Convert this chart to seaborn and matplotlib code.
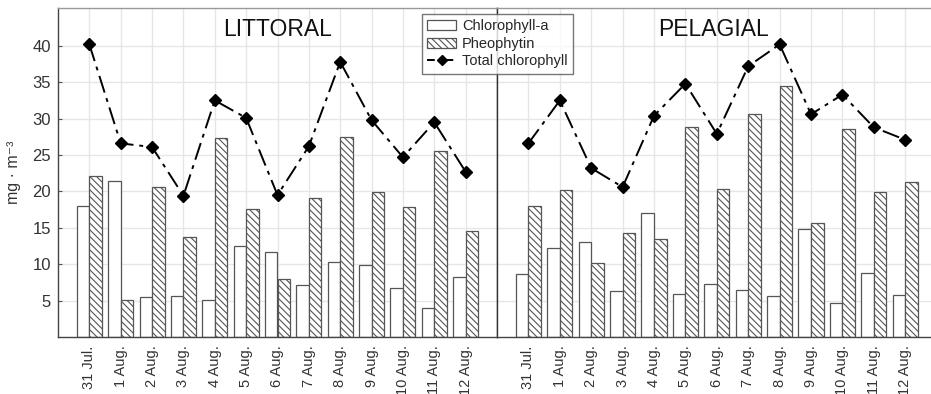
import matplotlib
matplotlib.use('Agg')
import matplotlib.pyplot as plt
import seaborn as sns
import pandas as pd
from matplotlib.patches import Patch
from matplotlib.lines import Line2D

# data
dates = ["31 Jul.", "1 Aug.", "2 Aug.", "3 Aug.", "4 Aug.", "5 Aug.", "6 Aug.",
         "7 Aug.", "8 Aug.", "9 Aug.", "10 Aug.", "11 Aug.", "12 Aug."]
sites = ["LITTORAL", "PELAGIAL"]

littoral_chla = [18.0, 21.5, 5.5, 5.7, 5.1, 12.5, 11.7, 7.1, 10.3, 9.9, 6.8, 4.0, 8.3]
littoral_pheo = [22.1, 5.1, 20.6, 13.8, 27.4, 17.6, 7.9, 19.1, 27.5, 19.9, 17.9, 25.6, 14.5]
littoral_total = [40.2, 26.6, 26.1, 19.4, 32.5, 30.1, 19.5, 26.2, 37.8, 29.8, 24.7, 29.5, 22.7]

pelagial_chla = [8.6, 12.2, 13.1, 6.3, 17.1, 5.9, 7.3, 6.4, 5.7, 14.9, 4.7, 8.8, 5.8]
pelagial_pheo = [18.0, 20.2, 10.1, 14.3, 13.4, 28.8, 20.4, 30.7, 34.5, 15.7, 28.6, 19.9, 21.3]
pelagial_total = [26.6, 32.5, 23.2, 20.6, 30.4, 34.8, 27.9, 37.2, 40.2, 30.6, 33.3, 28.8, 27.1]

components = ["Chlorophyll-a", "Pheophytin"]
yticks = [5, 10, 15, 20, 25, 30, 35, 40]

sns.set_style('white')
plt.rcParams['font.family'] = ['Liberation Sans', 'DejaVu Sans']
plt.rcParams['hatch.color'] = '#555555'
plt.rcParams['hatch.linewidth'] = 0.8

W, H = 931, 394
fig = plt.figure(figsize=(W / 100, H / 100), dpi=100)
bottom = 1 - 337 / H
top = 1 - 8 / H
ax_l = fig.add_axes([58 / W, bottom, (497 - 58) / W, top - bottom])
ax_r = fig.add_axes([497 / W, bottom, (W - 497) / W, top - bottom], sharey=ax_l)

panels = [
    (ax_l, "LITTORAL", littoral_chla, littoral_pheo, littoral_total),
    (ax_r, "PELAGIAL", pelagial_chla, pelagial_pheo, pelagial_total),
]

grid_c = '#e6e6e6'
for ax, site, chla, pheo, total in panels:
    df = pd.DataFrame({
        'date': dates * 2,
        'component': [components[0]] * len(dates) + [components[1]] * len(dates),
        'value': chla + pheo,
    })
    sns.barplot(data=df, x='date', y='value', hue='component', hue_order=components,
                order=dates, palette=['white', 'white'], edgecolor='#555555',
                linewidth=0.9, width=0.8, ax=ax, legend=False, errorbar=None)
    n = len(dates)
    for i, p in enumerate(ax.patches):
        if i >= n:
            p.set_hatch('\\\\\\\\\\')
    ax.plot(range(n), total, color='black', lw=1.4, dashes=(9, 3, 2, 3),
            marker='D', markersize=6.5, zorder=5)

    ax.set_ylim(0, 45.2)
    ax.set_yticks(yticks)
    ax.set_xticks(range(n))
    ax.set_xticklabels(dates, rotation=90, fontsize=10.5, color='#333333')
    ax.tick_params(axis='x', length=0, pad=6)
    ax.grid(True, color=grid_c, lw=1)
    ax.set_axisbelow(True)
    ax.set_xlabel('')
    ax.set_ylabel('')
    ax.text(0.5, 0.935, site, transform=ax.transAxes, ha='center', va='center',
            fontsize=16.5, color='#111111')
    for s in ax.spines.values():
        s.set_color('#444444')
        s.set_linewidth(1)
    ax.spines['top'].set_color('#999999')

ax_l.set_xlim(-1, 13)
ax_r.set_xlim(-1, 12.82)
ax_l.tick_params(axis='y', direction='in', length=3, labelsize=12, pad=5,
                 labelcolor='#333333', color='#555555', left=True)
ax_r.tick_params(axis='y', left=False, labelleft=False)
ax_r.spines['left'].set_color('#333333')
ax_r.spines['right'].set_visible(False)
ax_l.set_ylabel('mg · m⁻³', fontsize=11.5, color='#333333', labelpad=8)

handles = [
    Patch(facecolor='white', edgecolor='#555555', lw=0.9, label=components[0]),
    Patch(facecolor='white', edgecolor='#555555', lw=0.9, hatch='\\\\\\\\\\', label=components[1]),
    Line2D([0], [0], color='black', lw=1.4, dashes=(4, 2, 1.5, 2), marker='D',
           markersize=5.5, label='Total chlorophyll'),
]
leg = fig.legend(handles=handles, loc='upper left', bbox_to_anchor=(422 / W, 1 - 14 / H),
                 frameon=True, fancybox=False, fontsize=10.5, borderaxespad=0,
                 handlelength=2.0, handletextpad=0.4, labelspacing=0.25,
                 borderpad=0.35)
leg.get_frame().set_edgecolor('#555555')
leg.get_frame().set_linewidth(1)
leg.set_zorder(10)

fig.savefig('out.png', dpi=100)
